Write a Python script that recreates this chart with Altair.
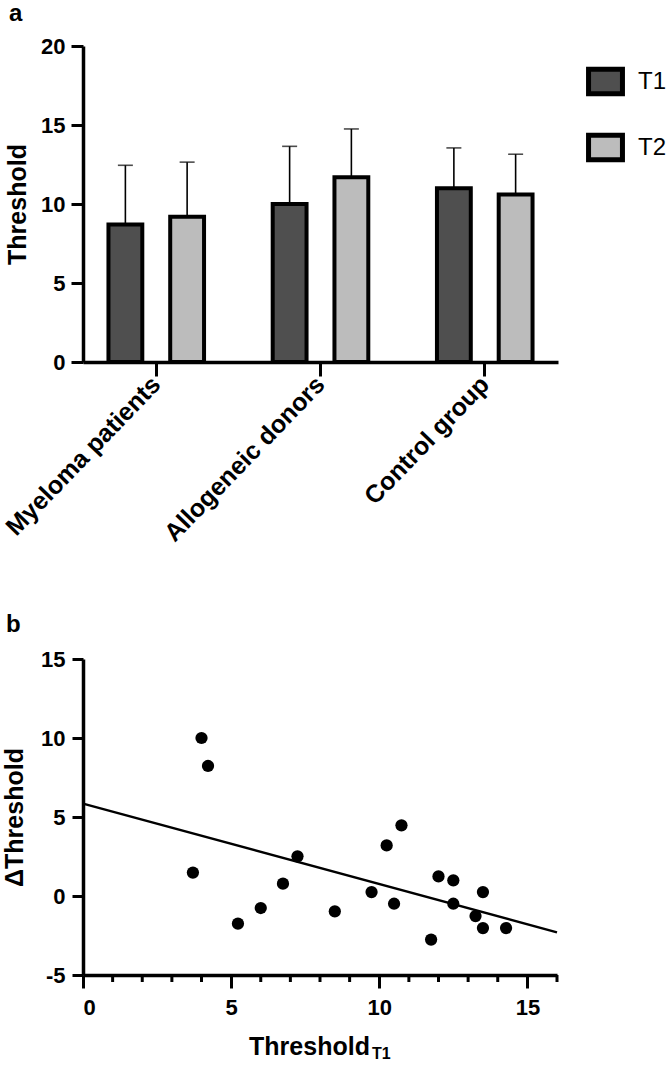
import altair as alt
import pandas as pd

# ---------------- data ----------------
groups = ["Myeloma patients", "Allogeneic donors", "Control group"]
timepoints = ["T1", "T2"]
mean_t1 = [8.7, 10.0, 11.0]
mean_t2 = [9.2, 11.7, 10.6]
upper_t1 = [12.45, 13.65, 13.55]
upper_t2 = [12.65, 14.75, 13.15]

thr_t1 = [4.0, 4.22, 3.71, 5.23, 6.0, 6.75, 7.24, 8.5, 9.74, 10.25,
          10.5, 10.75, 11.75, 12.0, 12.5, 12.5, 13.25, 13.5, 13.5, 14.28]
delta_thr = [10.0, 8.23, 1.48, -1.75, -0.76, 0.78, 2.51, -0.97, 0.25, 3.2,
             -0.49, 4.47, -2.76, 1.24, 0.99, -0.49, -1.27, 0.25, -2.03, -2.03]
fit_x = [0, 16]
fit_y = [5.85, -2.3]
major_x = [0, 5, 10, 15]
minor_x = [1, 2, 3, 4, 6, 7, 8, 9, 11, 12, 13, 14, 16]

bar_rows = []
for i, g in enumerate(groups):
    bar_rows.append({"group": g, "time": "T1", "mean": mean_t1[i], "upper": upper_t1[i]})
    bar_rows.append({"group": g, "time": "T2", "mean": mean_t2[i], "upper": upper_t2[i]})
bar_df = pd.DataFrame(bar_rows)
sc_df = pd.DataFrame({"x": thr_t1, "y": delta_thr})
fit_df = pd.DataFrame({"x": fit_x, "y": fit_y})
minor_df = pd.DataFrame({"x": minor_x})

FONT = "Liberation Sans"

# ---------------- panel a ----------------
xenc = alt.X("group:N", sort=groups,
             scale=alt.Scale(paddingInner=0.212, paddingOuter=0.052),
             axis=alt.Axis(title=None, labelAngle=-46, labelFontSize=25, labelFont=FONT,
                           labelFontWeight="bold", labelColor="black", tickSize=14,
                           tickWidth=3, tickColor="black", domainWidth=3.5,
                           domainColor="black", labelPadding=4, labelLimit=0))
xoff = alt.XOffset("time:N", sort=timepoints,
                   scale=alt.Scale(paddingInner=0.452, paddingOuter=0.274))
yenc = alt.Y("mean:Q", scale=alt.Scale(domain=[0, 20], nice=False),
             axis=alt.Axis(values=[0, 5, 10, 15, 20], title="Threshold", titleFont=FONT,
                           titleFontSize=25, titleFontWeight="bold", titleColor="black",
                           titlePadding=10, labelFont=FONT, labelFontSize=22,
                           labelFontWeight="bold", labelColor="black", labelPadding=6,
                           tickSize=12, tickWidth=3, tickColor="black",
                           domainWidth=3.5, domainColor="black", grid=False))

base_a = alt.Chart(bar_df)
bars = base_a.mark_bar(stroke="black", strokeWidth=4).encode(
    x=xenc, xOffset=xoff, y=yenc,
    color=alt.Color("time:N", sort=timepoints,
                    scale=alt.Scale(domain=timepoints, range=["#4f4f4f", "#bcbcbc"]),
                    legend=alt.Legend(title=None, orient="none", legendX=503, legendY=16,
                                      symbolType="M-1,-0.72L1,-0.72L1,0.72L-1,0.72Z",
                                      symbolSize=1150, symbolStrokeColor="black",
                                      symbolStrokeWidth=5, symbolOpacity=1,
                                      labelFont=FONT, labelFontSize=24, labelColor="black",
                                      labelOffset=13, rowPadding=21, padding=0)))
err = base_a.mark_rule(color="black", strokeWidth=1.6).encode(
    x=alt.X("group:N", sort=groups), xOffset=alt.XOffset("time:N", sort=timepoints),
    y="mean:Q", y2="upper:Q")
caps = base_a.mark_tick(color="black", thickness=1.6, size=15, orient="horizontal").encode(
    x=alt.X("group:N", sort=groups), xOffset=alt.XOffset("time:N", sort=timepoints),
    y="upper:Q")

panel_a = alt.layer(bars, err, caps).properties(
    width=475, height=316,
    title=alt.TitleParams("a", anchor="start", frame="group", dx=-74, fontSize=24,
                          font=FONT, fontWeight="bold", color="black", offset=9))

# ---------------- panel b ----------------
xs = alt.X("x:Q", scale=alt.Scale(domain=[0, 16], nice=False),
           axis=alt.Axis(values=major_x, title="Threshold",
                         labelFont=FONT, labelFontSize=22, labelFontWeight="bold",
                         labelColor="black", labelPadding=9, tickSize=13,
                         tickWidth=3, tickColor="black", domainWidth=3.5, domainColor="black",
                         titleFont=FONT, titleFontSize=25, titleFontWeight="bold",
                         titleColor="black", titleX=226, titleY=79, titleAlign="center",
                         titleBaseline="alphabetic", grid=False))
ys = alt.Y("y:Q", scale=alt.Scale(domain=[-5, 15], nice=False),
           axis=alt.Axis(values=[-5, 0, 5, 10, 15], title="ΔThreshold", titleFont=FONT,
                         labelExpr="'' + datum.value",
                         titleFontSize=25, titleFontWeight="bold", titleColor="black",
                         titlePadding=13, labelFont=FONT, labelFontSize=22,
                         labelFontWeight="bold", labelColor="black", labelPadding=7,
                         tickSize=11, tickWidth=3, tickColor="black", domainWidth=3.5,
                         domainColor="black", grid=False))

pts = alt.Chart(sc_df).mark_circle(size=150, color="black", opacity=1).encode(x=xs, y=ys)
line = alt.Chart(fit_df).mark_line(color="black", strokeWidth=2.4).encode(x=xs, y=ys)
minor = alt.Chart(minor_df).mark_rule(color="black", strokeWidth=3).encode(
    x=xs, y=alt.value(316), y2=alt.value(323))
sub = alt.Chart(pd.DataFrame({"t": ["T1"]})).mark_text(
    font=FONT, fontSize=16, fontWeight="bold", color="black", align="left",
    baseline="alphabetic").encode(text="t:N", x=alt.value(289), y=alt.value(400))
# invisible anchor that sets the left extent of panel b (aligns plot areas as in the figure)
anchor = alt.Chart(pd.DataFrame({"t": ["b"]})).mark_text(
    opacity=0, fontSize=10, align="left", baseline="middle").encode(
    text="t:N", x=alt.value(-98), y=alt.value(150))

panel_b = alt.layer(line, pts, minor, sub, anchor).properties(
    width=474, height=316,
    title=alt.TitleParams("b", anchor="start", frame="group", dx=-77, fontSize=24,
                          font=FONT, fontWeight="bold", color="black", offset=11))

chart = alt.vconcat(panel_a, panel_b, spacing=67).properties(
    padding={"left": -15, "top": 2, "right": 0, "bottom": 0}
).configure_view(stroke=None)

chart.save("out.html", embed_options={"renderer": "svg", "actions": False})
